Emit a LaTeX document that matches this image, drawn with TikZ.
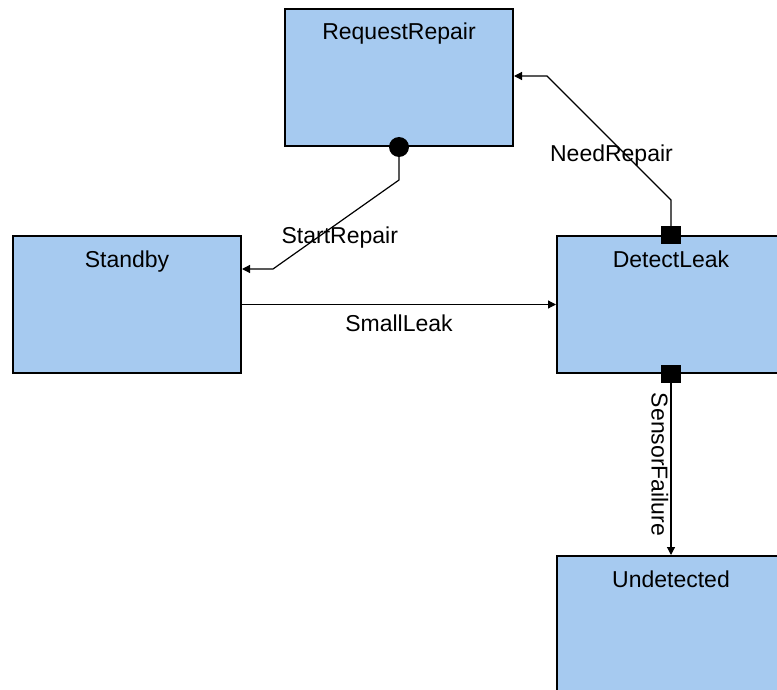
\documentclass[tikz,border=0pt]{standalone}
\usepackage{fontspec}
\setmainfont{Liberation Sans}
\usepackage{tikz}
\usetikzlibrary{arrows.meta, calc, positioning}
\usepackage{xcolor}
\definecolor{stateblue}{RGB}{166,202,240}

\begin{document}
\begin{tikzpicture}[x=0.5pt, y=-0.5pt,
  font=\fontsize{11.5}{14}\selectfont,
  state/.style={draw=black, line width=1pt, fill=stateblue, minimum width=114pt, inner sep=0pt, text height=15.5pt, text depth=53pt, anchor=north},
  lbl/.style={inner sep=1pt},
  conn/.style={line width=0.6pt, -{Triangle[length=4pt, width=4pt]}},
  sqmark/.style={fill=black, minimum width=10pt, minimum height=9pt, inner sep=0pt},
  dotmark/.style={fill=black, circle, minimum size=10pt, inner sep=0pt}]
  % page
  \clip (0,0) rectangle (777,690);
  % states
  \node[state] (requestrepair) at (399,8) {RequestRepair};
  \node[state] (standby) at (127,235) {Standby};
  \node[state] (detectleak) at (671,235) {DetectLeak};
  \node[state] (undetected) at (671,555) {Undetected};
  % bend points
  \coordinate (sr1) at (399,180);
  \coordinate (sr2) at (273,269);
  \coordinate (nr1) at (671,200);
  \coordinate (nr2) at (547,76);
  % StartRepair
  \draw[conn] (requestrepair.south) -- (sr1) -- node[lbl, pos=0.47, yshift=-8pt] {StartRepair} (sr2) -- (sr2 -| standby.east);
  % NeedRepair
  \draw[conn] (detectleak.north) -- (nr1) -- node[lbl, pos=0.48, yshift=-7.5pt] {NeedRepair} (nr2) -- (nr2 -| requestrepair.east);
  % SmallLeak
  \draw[conn] (standby.east) -- node[lbl, below=4pt] {SmallLeak} (detectleak.west);
  % SensorFailure
  \draw[conn] (detectleak.south) -- node[lbl, midway, rotate=-90, anchor=north] {SensorFailure} (undetected.north);
  % markers
  \node[dotmark] (startdot) at (requestrepair.south) {};
  \node[sqmark] (needsq) at (detectleak.north) {};
  \node[sqmark] (sensorsq) at (detectleak.south) {};
\end{tikzpicture}
\end{document}
